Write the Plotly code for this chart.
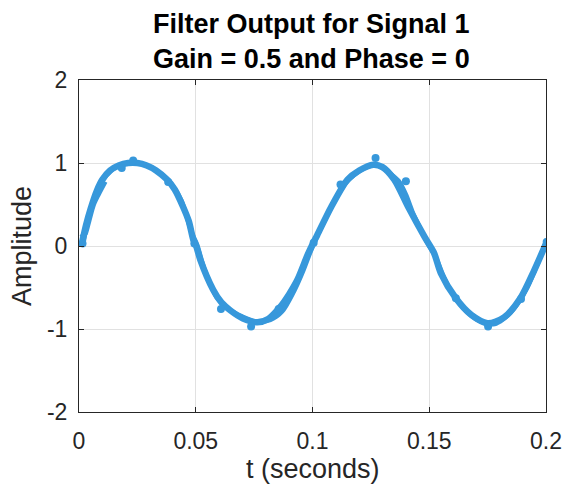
import plotly.graph_objects as go

# Main filtered output trace
t_main = [0.001, 0.003, 0.005, 0.0077, 0.010, 0.0133, 0.017, 0.021, 0.025, 0.029, 0.033,
          0.0377, 0.041, 0.0446, 0.047, 0.049, 0.0502, 0.052, 0.0575, 0.061, 0.065, 0.070,
          0.0764, 0.081, 0.086, 0.090, 0.0935, 0.098, 0.100, 0.102, 0.108, 0.115, 0.120,
          0.126, 0.130, 0.135, 0.141, 0.148, 0.152, 0.155, 0.1614, 0.168, 0.175, 0.182,
          0.189, 0.195, 0.200]
y_main = [0.00, 0.25, 0.45, 0.67, 0.80, 0.91, 0.97, 1.00, 1.00, 0.97, 0.91,
          0.80, 0.68, 0.47, 0.30, 0.07, 0.00, -0.17, -0.53, -0.68, -0.78, -0.87,
          -0.92, -0.88, -0.74, -0.58, -0.41, -0.10, 0.02, 0.13, 0.47, 0.80, 0.91,
          0.98, 0.95, 0.80, 0.47, 0.11, -0.08, -0.33, -0.63, -0.83, -0.93, -0.86,
          -0.63, -0.29, 0.03]

# Secondary overlapping pass (slightly different path)
t_alt = [0.002, 0.004, 0.0065, 0.009, 0.012, 0.016, 0.020, 0.024, 0.028, 0.032, 0.036,
         0.040, 0.044, 0.048, 0.0505, 0.054, 0.059, 0.064, 0.070, 0.076, 0.082, 0.087,
         0.092, 0.096, 0.099, 0.103, 0.109, 0.114, 0.119, 0.124, 0.128, 0.133, 0.137,
         0.140, 0.143, 0.146, 0.149, 0.153, 0.158, 0.165, 0.172, 0.178, 0.185, 0.192,
         0.197, 0.200]
y_alt = [0.05, 0.35, 0.58, 0.74, 0.86, 0.95, 0.99, 1.01, 0.98, 0.93, 0.85,
         0.73, 0.54, 0.18, 0.02, -0.30, -0.62, -0.76, -0.85, -0.91, -0.89, -0.79,
         -0.55, -0.30, -0.08, 0.18, 0.52, 0.75, 0.88, 0.96, 0.97, 0.88, 0.78,
         0.62, 0.40, 0.22, 0.05, -0.15, -0.48, -0.76, -0.91, -0.94, -0.80, -0.50,
         -0.17, 0.05]

# Third pass over the fat initial rise
t_rise = [0.0012, 0.0025, 0.004, 0.006, 0.008, 0.011]
y_rise = [0.10, 0.15, 0.30, 0.50, 0.62, 0.78]

# Stray sample points
t_dots = [0.0232, 0.0183, 0.0382, 0.0494, 0.0608, 0.0737, 0.0855, 0.1005, 0.112,
          0.127, 0.140, 0.1614, 0.1752, 0.1893, 0.2003, 0.0015]
y_dots = [1.03, 0.94, 0.77, 0.03, -0.76, -0.97, -0.76, 0.04, 0.74,
          1.06, 0.78, -0.63, -0.97, -0.64, 0.05, 0.03]

# Small loop point
t_loop = [0.1506]
y_loop = [0.07]

x_ticks = [0, 0.05, 0.1, 0.15, 0.2]
x_ticktext = ["0", "0.05", "0.1", "0.15", "0.2"]
y_ticks = [-2, -1, 0, 1, 2]
y_ticktext = ["-2", "-1", "0", "1", "2"]

color = "rgb(55,152,219)"
FONT = "Liberation Sans, Arial, Helvetica, sans-serif"

fig = go.Figure()
fig.add_trace(go.Scatter(x=t_main, y=y_main, mode="lines",
                         line=dict(color=color, width=6.5, shape="spline", smoothing=0.8), showlegend=False))
fig.add_trace(go.Scatter(x=t_alt, y=y_alt, mode="lines",
                         line=dict(color=color, width=4.5, shape="spline", smoothing=0.8), showlegend=False))
fig.add_trace(go.Scatter(x=t_rise, y=y_rise, mode="lines",
                         line=dict(color=color, width=6, shape="spline", smoothing=0.8), showlegend=False))
fig.add_trace(go.Scatter(x=t_dots, y=y_dots, mode="markers",
                         marker=dict(color=color, size=8), showlegend=False))
fig.add_trace(go.Scatter(x=t_loop, y=y_loop, mode="markers",
                         marker=dict(color="rgba(0,0,0,0)", size=10, symbol="circle-open",
                                     line=dict(color=color, width=3)), showlegend=False))

axis_common = dict(
    showgrid=True, gridcolor="rgb(225,225,225)", gridwidth=1,
    showline=True, linecolor="rgb(38,38,38)", linewidth=1, mirror="ticks",
    ticks="inside", ticklen=5, tickcolor="rgb(38,38,38)",
    zeroline=False, automargin=False,
    tickfont=dict(family=FONT, size=23, color="rgb(38,38,38)"),
)

fig.update_layout(
    width=563, height=489,
    paper_bgcolor="white", plot_bgcolor="white",
    margin=dict(l=79, r=17, t=80, b=77),
    font=dict(family=FONT, color="black"),
    xaxis=dict(range=[0, 0.2], tickvals=x_ticks, ticktext=x_ticktext,
               ticklabelstandoff=8, **axis_common),
    yaxis=dict(range=[-2, 2], tickvals=y_ticks, ticktext=y_ticktext,
               ticklabelstandoff=6, **axis_common),
    annotations=[
        dict(text="<b>Filter Output for Signal 1</b>", xref="paper", yref="paper",
             x=0.497, y=1.170, xanchor="center", yanchor="middle", showarrow=False,
             font=dict(family=FONT, size=27, color="black")),
        dict(text="<b>Gain = 0.5 and Phase = 0</b>", xref="paper", yref="paper",
             x=0.497, y=1.062, xanchor="center", yanchor="middle", showarrow=False,
             font=dict(family=FONT, size=27, color="black")),
        dict(text="t (seconds)", xref="paper", yref="paper",
             x=0.5, y=-0.172, xanchor="center", yanchor="middle", showarrow=False,
             font=dict(family=FONT, size=27, color="rgb(38,38,38)")),
        dict(text="Amplitude", xref="paper", yref="paper", textangle=-90,
             x=-0.1222, y=0.5, xanchor="center", yanchor="middle", showarrow=False,
             font=dict(family=FONT, size=27, color="rgb(38,38,38)")),
    ],
)

fig.write_html("out.html",
               config={"displayModeBar": False},
               post_script="document.body.style.margin='0';document.body.style.overflow='hidden';")
